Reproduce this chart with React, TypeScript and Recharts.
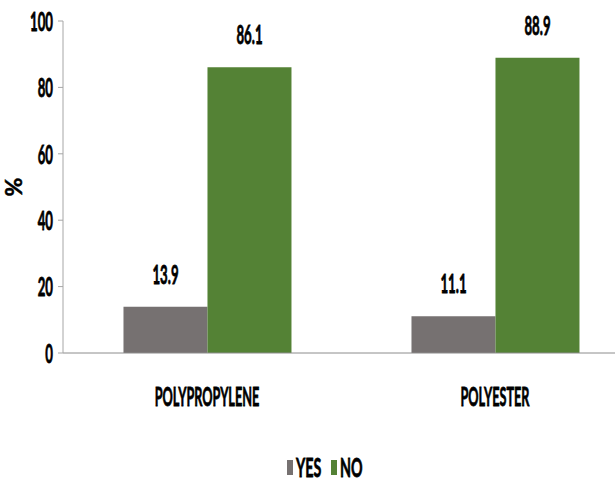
import { BarChart, Bar, XAxis, YAxis, Legend, LabelList } from 'recharts'

const categories = ['POLYPROPYLENE', 'POLYESTER']
const yesValues = [13.9, 11.1]
const noValues = [86.1, 88.9]
const yTicks = [0, 20, 40, 60, 80, 100]

const data = categories.map((name, i) => ({ name, yes: yesValues[i], no: noValues[i] }))

const FONT = "Lato, 'DejaVu Sans Condensed', sans-serif"
const SQ = 0.49 // horizontal squeeze of the text (narrow look)

function SqText({ x, y, size = 27, anchor = 'middle', sq = SQ, children }: any) {
  return (
    <text
      transform={`translate(${x},${y}) scale(${sq},1)`}
      textAnchor={anchor}
      dy="0.36em"
      fontFamily={FONT}
      fontWeight="bold"
      fontSize={size}
      fill="#000"
      stroke="#000"
      strokeWidth={0.8}
    >
      {children}
    </text>
  )
}

const YTick = ({ x, y, payload }: any) => (
  <SqText x={x - 3} y={y} anchor="end">{payload.value}</SqText>
)

const XTick = ({ x, y, payload }: any) => (
  <SqText x={x} y={y + 35} sq={0.47}>{payload.value}</SqText>
)

const ValueLabel = ({ x, y, width, value }: any) => (
  <SqText x={x + width / 2} y={y - 33}>{value}</SqText>
)

const AxisTitle = ({ viewBox }: any) => {
  const cy = viewBox.y + viewBox.height / 2
  return (
    <text
      transform={`translate(14,${cy}) rotate(-90)`}
      textAnchor="middle"
      dy="0.36em"
      fontFamily={FONT}
      fontWeight="bold"
      fontSize={23}
      stroke="#000"
      strokeWidth={0.5}
    >
      %
    </text>
  )
}

const legendItems = [
  { label: 'YES', color: '#767171' },
  { label: 'NO', color: '#548235' },
]

// legend box starts at y=435, items centred at y=467
const renderLegend = () => (
  <svg width={615} height={46} style={{ display: 'block', overflow: 'visible' }}>
    {legendItems.map((it, i) => {
      const sx = i === 0 ? 287 : 331
      return (
        <g key={it.label}>
          <rect x={sx} y={25} width={6} height={15} fill={it.color} />
          <SqText x={sx + 9} y={32} anchor="start" sq={0.53}>{it.label}</SqText>
        </g>
      )
    })}
  </svg>
)

export default function App() {
  return (
    <div style={{ position: 'absolute', left: 0, top: 0, width: 615, height: 482, overflow: 'hidden', background: '#fff' }}>
      <BarChart
        width={660}
        height={482}
        data={data}
        margin={{ top: 21, right: 21, left: 0, bottom: 0 }}
        barCategoryGap="21%"
        barGap={0}
      >
        <XAxis
          dataKey="name"
          axisLine={{ stroke: '#8c8c8c' }}
          tickLine={false}
          tick={<XTick />}
          height={99}
          interval={0}
        />
        <YAxis
          domain={[0, 100]}
          ticks={yTicks}
          width={63}
          axisLine={{ stroke: '#a6a6a6' }}
          tickLine={{ stroke: '#a6a6a6' }}
          tickSize={5}
          tick={<YTick />}
          label={{ content: <AxisTitle /> }}
        />
        <Legend
          verticalAlign="bottom"
          height={30}
          content={renderLegend}
          wrapperStyle={{ left: 0, top: 435, width: 615 }}
        />
        <Bar dataKey="yes" name="YES" fill="#767171" isAnimationActive={false}>
          <LabelList dataKey="yes" content={<ValueLabel />} />
        </Bar>
        <Bar dataKey="no" name="NO" fill="#548235" isAnimationActive={false}>
          <LabelList dataKey="no" content={<ValueLabel />} />
        </Bar>
      </BarChart>
    </div>
  )
}
